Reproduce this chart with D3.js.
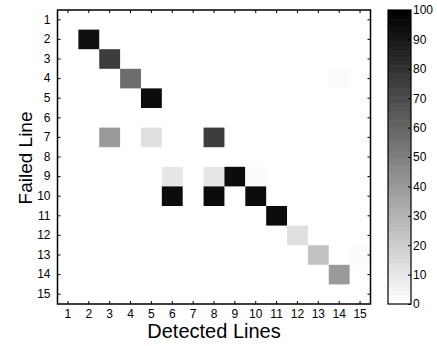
<!DOCTYPE html>
<html>
<head>
<meta charset="utf-8">
<script src="https://cdn.jsdelivr.net/npm/d3@7"></script>
<style>
  body { margin: 0; background: #fff; }
  svg { display: block; font-family: "Liberation Sans", Arial, sans-serif; }
</style>
</head>
<body>
<svg id="chart" width="437" height="346"></svg>
<script>
// line numbers on both axes
const lines = d3.range(1, 16);
// non-zero cells: failed line (row), detected line (column), percentage
const failedLine   = [2, 3, 4, 4, 5, 7, 7, 7, 9, 9, 9, 9, 10, 10, 10, 11, 12, 13, 13, 14];
const detectedLine = [2, 3, 4, 14, 5, 3, 5, 8, 6, 8, 9, 10, 6, 8, 10, 11, 12, 13, 15, 14];
const percent      = [93, 76, 57, 3, 94, 40, 14, 76, 10, 10, 94, 3, 94, 94, 94, 94, 13, 24, 3, 40];
const colorbarTicks = [0, 10, 20, 30, 40, 50, 60, 70, 80, 90, 100];

const svg = d3.select("#chart");
const plotL = 57.5, plotR = 370.5, plotT = 10, plotB = 304;

const x = d3.scaleBand().domain(lines).range([plotL, plotR]);
const y = d3.scaleBand().domain(lines).range([plotT, plotB]);

// MATLAB-like flipped gray colormap with 64 steps
const nLevels = 64;
const grays = d3.range(nLevels).map(i => {
  const g = Math.round((1 - i / (nLevels - 1)) * 255);
  return d3.rgb(g, g, g).toString();
});
const color = d3.scaleQuantize().domain([0, 100]).range(grays);

// background (zero everywhere)
svg.append("rect")
  .attr("x", plotL).attr("y", plotT)
  .attr("width", plotR - plotL).attr("height", plotB - plotT)
  .attr("fill", color(0));

svg.append("g").selectAll("rect")
  .data(percent.map((v, i) => ({ r: failedLine[i], c: detectedLine[i], v: v })))
  .enter().append("rect")
  .attr("x", d => x(d.c))
  .attr("y", d => y(d.r))
  .attr("width", x.bandwidth())
  .attr("height", y.bandwidth())
  .attr("fill", d => color(d.v));

// axes: inward ticks on all sides
const tickLen = 3;
const tickFont = 12;

const bottomAxis = svg.append("g").attr("transform", `translate(0,${plotB})`)
  .call(d3.axisBottom(x).tickSizeInner(-tickLen).tickSizeOuter(0).tickPadding(5));
const leftAxis = svg.append("g").attr("transform", `translate(${plotL},0)`)
  .call(d3.axisLeft(y).tickSizeInner(-tickLen).tickSizeOuter(0).tickPadding(7));
const topAxis = svg.append("g").attr("transform", `translate(0,${plotT})`)
  .call(d3.axisTop(x).tickSizeInner(-tickLen).tickSizeOuter(0).tickFormat(""));
const rightAxis = svg.append("g").attr("transform", `translate(${plotR},0)`)
  .call(d3.axisRight(y).tickSizeInner(-tickLen).tickSizeOuter(0).tickFormat(""));

[bottomAxis, leftAxis, topAxis, rightAxis].forEach(a => {
  a.select(".domain").remove();
  a.selectAll("line").attr("stroke", "#000").attr("stroke-width", 1);
  a.selectAll("text").attr("font-size", tickFont).attr("fill", "#000")
    .attr("font-family", "Liberation Sans, Arial, sans-serif");
});

svg.append("rect")
  .attr("x", plotL).attr("y", plotT)
  .attr("width", plotR - plotL).attr("height", plotB - plotT)
  .attr("fill", "none").attr("stroke", "#000").attr("stroke-width", 1.5);

// axis titles
svg.append("text")
  .attr("x", (plotL + plotR) / 2).attr("y", 338)
  .attr("text-anchor", "middle").attr("font-size", 20)
  .text("Detected Lines");
svg.append("text")
  .attr("transform", `translate(31.5,${(plotT + plotB) / 2 + 1}) rotate(-90)`)
  .attr("text-anchor", "middle").attr("font-size", 19)
  .text("Failed Line");

// colorbar
const cbL = 388, cbR = 411;
const cy = d3.scaleLinear().domain([0, 100]).range([plotB, plotT]);
const step = 100 / nLevels;
svg.append("g").selectAll("rect")
  .data(d3.range(nLevels))
  .enter().append("rect")
  .attr("x", cbL)
  .attr("y", i => cy((i + 1) * step))
  .attr("width", cbR - cbL)
  .attr("height", i => cy(i * step) - cy((i + 1) * step) + 0.5)
  .attr("fill", i => grays[i]);

const cbAxis = svg.append("g").attr("transform", `translate(${cbR},0)`)
  .call(d3.axisRight(cy).tickValues(colorbarTicks).tickSizeInner(-tickLen).tickSizeOuter(0).tickPadding(2));
cbAxis.select(".domain").remove();
cbAxis.selectAll("line").attr("stroke", "#000");
cbAxis.selectAll("text").attr("font-size", tickFont).attr("fill", "#000")
  .attr("font-family", "Liberation Sans, Arial, sans-serif");

svg.append("rect")
  .attr("x", cbL).attr("y", plotT)
  .attr("width", cbR - cbL).attr("height", plotB - plotT)
  .attr("fill", "none").attr("stroke", "#000").attr("stroke-width", 1.2);
</script>
</body>
</html>
